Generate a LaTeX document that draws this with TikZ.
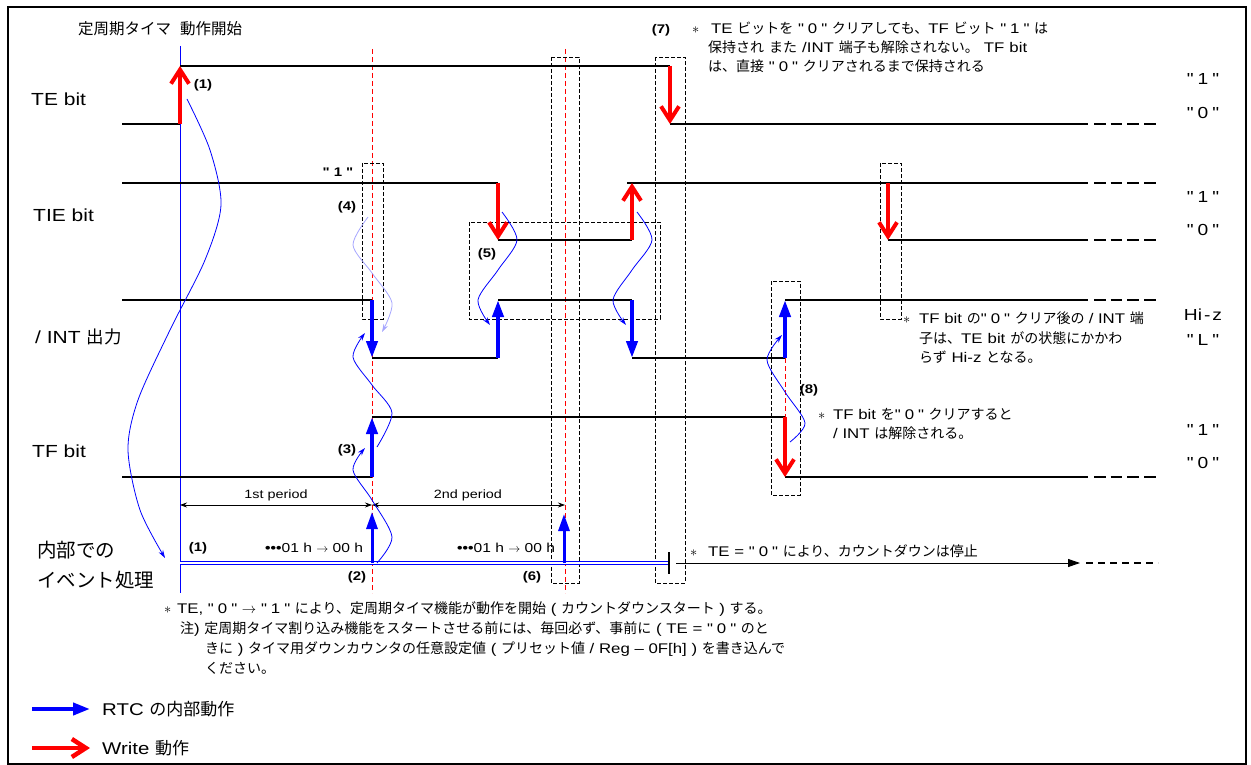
\documentclass[tikz,border=0pt]{standalone}
\usepackage{fontspec}
\setmainfont{Liberation Sans}[Ligatures=TeXOff,FakeStretch=1.2]
\newfontfamily\jpfont{Noto Sans CJK JP}[Ligatures=TeXOff]
% switch to the CJK font for kana/kanji automatically
\XeTeXinterchartokenstate=1
\newXeTeXintercharclass\jpclass
\newcount\jpc
\jpc="3000 \loop\ifnum\jpc<"3100 \XeTeXcharclass\jpc=\jpclass \advance\jpc by 1 \repeat
\jpc="4E00 \loop\ifnum\jpc<"A000 \XeTeXcharclass\jpc=\jpclass \advance\jpc by 1 \repeat
\jpc="FF00 \loop\ifnum\jpc<"FFF0 \XeTeXcharclass\jpc=\jpclass \advance\jpc by 1 \repeat
\XeTeXinterchartoks 0 \jpclass = {\jpfont}
\XeTeXinterchartoks 4095 \jpclass = {\jpfont}
\XeTeXinterchartoks \jpclass 0 = {\rmfamily}
\XeTeXinterchartoks \jpclass 4095 = {\rmfamily}
\usepackage{tikz}
\usetikzlibrary{arrows.meta}
\newcommand{\qt}[1]{"\kern4pt#1\kern4pt"}
\newcommand{\nstar}{$\ast$}

\begin{document}
\begin{tikzpicture}[x=1pt,y=-1pt,>=Stealth,
    sig/.style={line width=1.7pt},
    sigtail/.style={line width=1.7pt,dash pattern=on 11.7pt off 5pt},
    wr/.style={red,line width=4pt,-{Straight Barb[length=14pt,width=18pt]}},
    rtc/.style={blue,line width=4pt,-{Triangle[length=17pt,width=11pt]}},
    flow/.style={blue,line width=0.8pt,-{Stealth[length=8pt,width=5pt]}},
    box/.style={line width=0.8pt,dash pattern=on 4pt off 2pt},
    tmark/.style={red,line width=0.9pt,dash pattern=on 5pt off 3pt},
    lbl/.style={anchor=base west,inner sep=0pt,font=\fontsize{17.5}{20}\selectfont},
    lvl/.style={font=\fontsize{16}{20}\selectfont},
    num/.style={font=\bfseries\fontsize{12.5}{15}\selectfont},
    note/.style={anchor=base west,inner sep=0pt,font=\fontsize{14}{16}\selectfont},
    per/.style={font=\fontsize{12}{15}\selectfont}]
        \useasboundingbox (0,0) rectangle (1251,765);
        \draw[line width=1.8pt] (8,7) rectangle (1246,764);
        % markers and boxes
        \draw[tmark] (372,49)--(372,593);
        \draw[tmark] (565,49)--(565,593);
        \draw[tmark] (785,358)--(785,417);
        \draw[box] (362,163) rectangle (383,319);
        \draw[box] (551,57) rectangle (579,583);
        \draw[box] (655,57) rectangle (685,583);
        \draw[box] (469,222) rectangle (660,319);
        \draw[box] (880,163) rectangle (901,319);
        \draw[box] (771,281) rectangle (800,495);
        \draw[blue,line width=0.9pt] (180,46)--(180,593);
        % TE bit
        \draw[sig] (122,124)--(180,124);
        \draw[sig] (180,66)--(670,66);
        \draw[sig] (670,124)--(1088,124);
        \draw[wr] (180,124)--(180,66);
        \draw[wr] (670,66)--(670,124);
        % TIE bit
        \draw[sig] (122,183)--(498,183);
        \draw[sig] (498,240)--(632,240);
        \draw[sig] (627,183)--(1088,183);
        \draw[sig] (888,240)--(1088,240);
        \draw[wr] (498,183)--(498,240);
        \draw[wr] (632,240)--(632,183);
        \draw[wr] (888,183)--(888,240);
        % /INT
        \draw[sig] (122,300)--(372,300);
        \draw[sig] (372,358)--(498,358);
        \draw[sig] (498,300)--(632,300);
        \draw[sig] (632,358)--(785,358);
        \draw[sig] (785,300)--(1088,300);
        \draw[rtc] (372,300)--(372,358);
        \draw[rtc] (498,358)--(498,300);
        \draw[rtc] (632,300)--(632,358);
        \draw[rtc] (785,358)--(785,300);
        % TF bit
        \draw[sig] (122,477)--(372,477);
        \draw[sig] (372,417)--(785,417);
        \draw[sig] (785,477)--(1088,477);
        \draw[rtc] (372,477)--(372,417);
        \draw[wr] (785,417)--(785,477);
        \foreach \y in {124,183,240,300,477}
            \draw[sigtail] (1094,\y)--(1158,\y);
        % internal events
        \draw[blue,double=white,double distance=1.6pt,line width=0.8pt] (180,563)--(668,563);
        \draw[line width=2.5pt] (669,552)--(669,574);
        \draw[line width=0.9pt,-{Triangle[length=12pt,width=8pt]}] (676,563)--(1080,563);
        \draw[line width=1.7pt,dash pattern=on 7pt off 5pt] (1086,563)--(1158,563);
        \draw[rtc,line width=3pt] (372,563)--(372,512);
        \draw[rtc,line width=3pt] (564,563)--(564,514);
        \draw[<->,line width=0.7pt,>={Stealth[length=7pt,width=5pt]}] (180,505)--(372,505);
        \draw[<->,line width=0.7pt,>={Stealth[length=7pt,width=5pt]}] (372,505)--(565,505);
        % flows
        \draw[flow] plot[smooth] coordinates {(187,99) (210,150) (221,205) (205,260) (170,330) (138,400) (128,450) (140,510) (165,558)};
        \draw[flow] plot[smooth] coordinates {(377,563) (392,537) (372,500) (353,470) (365,448)};
        \draw[flow] plot[smooth] coordinates {(377,447) (392,413) (372,385) (353,357) (365,333)};
        \draw[flow,blue!35] plot[smooth] coordinates {(368,217) (353,245) (372,273) (392,303) (382,332)};
        \draw[flow] plot[smooth] coordinates {(502,212) (517,240) (498,270) (478,300) (490,325)};
        \draw[flow] plot[smooth] coordinates {(637,212) (652,240) (632,270) (613,300) (626,325)};
        \draw[flow] plot[smooth] coordinates {(790,442) (805,423) (785,392) (767,360) (782,335)};
        % left labels
        \node[note,font=\fontsize{15.5}{18}\selectfont] (start) at (78,35) {定周期タイマ\hspace{9pt}動作開始};
        \node[lbl] (te) at (31,106) {TE bit};
        \node[lbl] (tie) at (33,222) {TIE bit};
        \node[lbl] (int) at (35,343) {/ INT 出力};
        \node[lbl] (tf) at (32,457) {TF bit};
        \node[lbl,font=\fontsize{19.5}{22}\selectfont] (ev1) at (37,557) {内部での};
        \node[lbl,font=\fontsize{19.5}{22}\selectfont] (ev2) at (37,587) {イベント処理};
        % right levels
        \node[lvl] (te1) at (1203,79) {\qt{1}};
        \node[lvl] (te0) at (1203,113) {\qt{0}};
        \node[lvl] (tie1) at (1203,197) {\qt{1}};
        \node[lvl] (tie0) at (1203,230) {\qt{0}};
        \node[lvl] (hiz) at (1203,315) {Hi\kern2pt-\kern2pt z};
        \node[lvl] (lo) at (1203,340) {\qt{L}};
        \node[lvl] (tf1) at (1203,430) {\qt{1}};
        \node[lvl] (tf0) at (1203,463) {\qt{0}};
        % step numbers
        \node[num] (n1) at (203,85) {(1)};
        \node[num] (q1) at (338,172) {\qt{1}};
        \node[num] (n4) at (347,207) {(4)};
        \node[num] (n5) at (487,254) {(5)};
        \node[num] (n3) at (347,450) {(3)};
        \node[num] (n8) at (809,390) {(8)};
        \node[num] (n1b) at (198,548) {(1)};
        \node[num] (n2) at (357,577) {(2)};
        \node[num] (n6) at (532,577) {(6)};
        \node[num] (n7) at (661,30) {(7)};
        \node[per] (p1) at (276,495) {1st period};
        \node[per] (p2) at (468,495) {2nd period};
        \node[note,font=\fontsize{13}{16}\selectfont] (c1) at (265,552) {\textbf{\textbullet\textbullet\textbullet}01 h $\rightarrow$ 00 h};
        \node[note,font=\fontsize{13}{16}\selectfont] (c2) at (457,552) {\textbf{\textbullet\textbullet\textbullet}01 h $\rightarrow$ 00 h};
        % notes
        \node[note] (s7) at (692,34) {\nstar};
        \node[note] (t7a) at (711,34) {TE ビットを \qt{0} クリアしても、TF ビット \qt{1} は};
        \node[note] (t7b) at (708,53) {保持され\hspace{5pt}また\hspace{5pt}/INT\hspace{5pt}端子も解除されない。\hspace{5pt}TF\hspace{5pt}bit};
        \node[note] (t7c) at (708,72) {は、直接 \qt{0} クリアされるまで保持される};
        \node[note] (se) at (690,556) {\nstar};
        \node[note] (tev) at (708,556) {TE = \qt{0} により、カウントダウンは停止};
        \node[note] (si) at (903,323) {\nstar};
        \node[note] (tia) at (919,323) {TF bit の\qt{0} クリア後の\hspace{4pt}/ INT 端};
        \node[note] (tib) at (919,343) {子は、TE\hspace{5pt}bit\hspace{5pt}がの状態にかかわ};
        \node[note] (tic) at (919,362) {らず Hi-z となる。};
        \node[note] (s8) at (818,419) {\nstar};
        \node[note] (t8a) at (833,419) {TF bit を\qt{0} クリアすると};
        \node[note] (t8b) at (833,438) {/ INT は解除される。};
        \node[note] (sb) at (164,613) {\nstar};
        \node[note] (tba) at (177,613) {TE, \qt{0} $\rightarrow$ \qt{1} により、定周期タイマ機能が動作を開始 ( カウントダウンスタート ) する。};
        \node[note] (tbb) at (180,633) {注) 定周期タイマ割り込み機能をスタートさせる前には、毎回必ず、事前に ( TE = \qt{0} のと};
        \node[note] (tbc) at (205,653) {きに ) タイマ用ダウンカウンタの任意設定値 ( プリセット値 / Reg – 0F[h] ) を書き込んで};
        \node[note] (tbd) at (205,673) {ください。};
        % legend
        \draw[blue,line width=4pt,-{Triangle[length=17pt,width=12pt]}] (32,709)--(90,709);
        \draw[red,line width=4.5pt,-{Straight Barb[length=14pt,width=18pt]}] (32,748)--(90,748);
        \node[lbl,font=\fontsize{17}{20}\selectfont] (lg1) at (102,715) {RTC の内部動作};
        \node[lbl,font=\fontsize{17}{20}\selectfont] (lg2) at (102,754) {Write 動作};
    \end{tikzpicture}
\end{document}
